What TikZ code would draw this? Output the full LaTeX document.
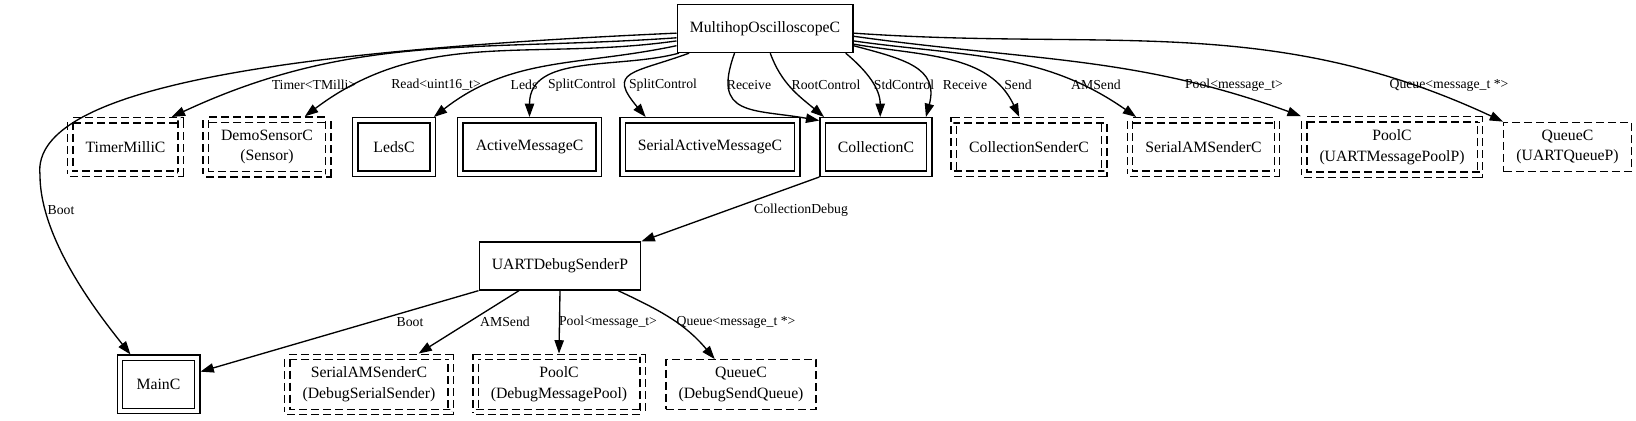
\documentclass[tikz,border=0pt]{standalone}
\usepackage{fontspec}
\setmainfont{Liberation Serif}
\usetikzlibrary{arrows.meta}

\newcommand{\compfont}{\fontsize{11.8pt}{15.5pt}\selectfont}
\newcommand{\lblfont}{\fontsize{10.3pt}{12pt}\selectfont}

\begin{document}
\begin{tikzpicture}[
   x = 0.75pt, y = 0.75pt,
   line width = 1pt,
   -{Triangle[length=10pt, width=7pt]},
   module/.style = {draw, rectangle, font=\compfont, align=center,
      minimum width=54pt, minimum height=36pt, inner xsep=9.5pt, inner ysep=5.6pt},
   config/.style = {module, double, double distance=3pt, outer sep=2.5pt,
      minimum width=58pt, minimum height=40pt, inner xsep=11.5pt, inner ysep=7.6pt},
   gconfig/.style = {config, dash pattern=on 6pt off 3pt},
   gmodule/.style = {module, dash pattern=on 6pt off 3pt},
   lbl/.style = {font=\lblfont, inner sep=0pt}]
   \useasboundingbox (0,0) rectangle (1636,421);

   \node[module]  (osc)       at (765,392.5)  {MultihopOscilloscopeC};
   \node[gconfig] (timer)     at (125.5,274)  {TimerMilliC};
   \node[gconfig] (sensor)    at (267,274)    {DemoSensorC\\(Sensor)};
   \node[config]  (leds)      at (394,274)    {LedsC};
   \node[config]  (am)        at (529.5,274)  {ActiveMessageC};
   \node[config]  (serialam)  at (710,274)    {SerialActiveMessageC};
   \node[config]  (coll)      at (876,274)    {CollectionC};
   \node[gconfig] (csender)   at (1029,274)   {CollectionSenderC};
   \node[gconfig] (amsender)  at (1203.5,274) {SerialAMSenderC};
   \node[gconfig] (pool)      at (1392,274)   {PoolC\\(UARTMessagePoolP)};
   \node[gmodule] (queue)     at (1567.5,274) {QueueC\\(UARTQueueP)};
   \node[module]  (dbg)       at (560,155)    {UARTDebugSenderP};
   \node[config]  (mainc)     at (158.5,36.5) {MainC};
   \node[gconfig] (dbgsender) at (369,36.5)   {SerialAMSenderC\\(DebugSerialSender)};
   \node[gconfig] (dbgpool)   at (559,36.5)   {PoolC\\(DebugMessagePool)};
   \node[gmodule] (dbgqueue)  at (741,36.5)   {QueueC\\(DebugSendQueue)};

   % wires of the top component
   \draw (osc.183) .. controls (300,371) and (30,336) .. (40,246)
      .. controls (40,181) and (99.5,105.5) .. (mainc.133);
   \draw (osc.186) to[out=184, in=25] (timer.33);
   \draw (osc.188) to[out=188, in=37] (sensor.39);
   \draw (osc.191) to[out=192, in=38] (leds.37);
   \draw (osc.196) to[out=195, in=90] (am.north);
   \draw (osc.198) to[out=200, in=130, looseness=2] (serialam.155);
   \draw (osc.219) to[out=250, in=170, looseness=1.6] (coll.155);
   \draw (osc.282) to[out=290, in=140] (coll.150);
   \draw (osc.343) to[out=320, in=90] (coll.82);
   \draw (osc.349) to[out=345, in=75, looseness=1.3] (coll.31);
   \draw (osc.350) to[out=350, in=115] (csender.108);
   \draw (osc.352) to[out=352, in=145] (amsender.156);
   \draw (osc.355) to[out=352, in=160] (pool.north west);
   \draw (osc.357) to[out=356, in=155] (queue.north west);

   \node[lbl] (lboot)    at (61,211)   {Boot};
   \node[lbl] (ltimer)   at (314,336)  {Timer<TMilli>};
   \node[lbl] (lread)    at (436,336)  {Read<uint16\_t>};
   \node[lbl] (lleds)    at (524,336)  {Leds};
   \node[lbl] (lsplit1)  at (582,336)  {SplitControl};
   \node[lbl] (lsplit2)  at (663,336)  {SplitControl};
   \node[lbl] (lrecv1)   at (749,336)  {Receive};
   \node[lbl] (lroot)    at (826,336)  {RootControl};
   \node[lbl] (lstd)     at (904,336)  {StdControl};
   \node[lbl] (lrecv2)   at (965,336)  {Receive};
   \node[lbl] (lsend)    at (1018,336) {Send};
   \node[lbl] (lamsend)  at (1096,336) {AMSend};
   \node[lbl] (lpool)    at (1234,336) {Pool<message\_t>};
   \node[lbl] (lqueue)   at (1449,336) {Queue<message\_t *>};

   % debug sender
   \draw (coll.south west) -- (dbg.north east);
   \node[lbl] (ldebug) at (801,211) {CollectionDebug};

   \draw (dbg.south west) -- (mainc.17);
   \draw (dbg.211) -- (dbgsender.32);
   \draw (dbg.south) -- (dbgpool.north);
   \draw (dbg.337) to[out=335, in=130] (dbgqueue.136);

   \node[lbl] (ldboot)   at (410,99) {Boot};
   \node[lbl] (ldamsend) at (505,99) {AMSend};
   \node[lbl] (ldpool)   at (608,99) {Pool<message\_t>};
   \node[lbl] (ldqueue)  at (736,99) {Queue<message\_t *>};
\end{tikzpicture}
\end{document}
